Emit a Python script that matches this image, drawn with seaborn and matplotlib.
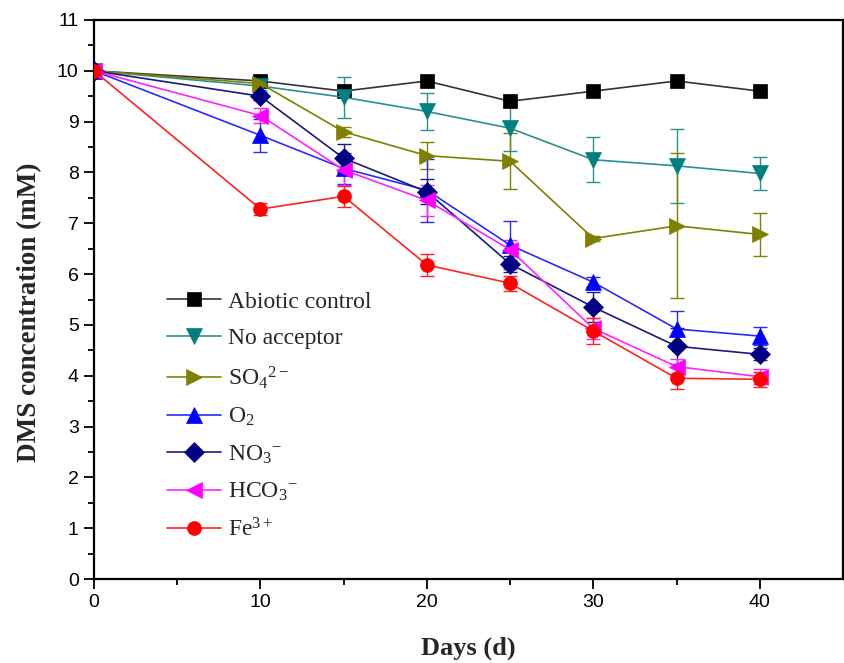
import numpy as np
import pandas as pd
import matplotlib
matplotlib.use("Agg")
import matplotlib.pyplot as plt
import seaborn as sns

days = [0, 10, 15, 20, 25, 30, 35, 40]

abiotic = [10.0, 9.8, 9.6, 9.8, 9.4, 9.6, 9.8, 9.6]
abiotic_err = [0, 0, 0, 0, 0, 0, 0, 0]
no_acceptor = [10.0, 9.7, 9.48, 9.2, 8.87, 8.25, 8.13, 7.98]
no_acceptor_err = [0, 0.08, 0.4, 0.37, 0.45, 0.44, 0.73, 0.33]
so4 = [10.0, 9.75, 8.8, 8.33, 8.22, 6.7, 6.95, 6.78]
so4_err = [0, 0.05, 0.1, 0.27, 0.55, 0.05, 1.43, 0.43]
o2 = [10.0, 8.73, 8.08, 7.65, 6.57, 5.84, 4.92, 4.78]
o2_err = [0, 0.33, 0.3, 0.62, 0.47, 0.1, 0.35, 0.17]
no3 = [10.0, 9.5, 8.28, 7.62, 6.2, 5.35, 4.58, 4.42]
no3_err = [0, 0.08, 0.28, 0.25, 0.15, 0.3, 0.35, 0.12]
hco3 = [10.0, 9.12, 8.05, 7.45, 6.48, 4.93, 4.18, 3.98]
hco3_err = [0, 0.15, 0.3, 0.3, 0.2, 0.2, 0.15, 0.15]
fe = [10.0, 7.28, 7.53, 6.18, 5.82, 4.88, 3.95, 3.93]
fe_err = [0, 0.12, 0.2, 0.22, 0.15, 0.25, 0.22, 0.15]

labels = ["Abiotic control", "No acceptor", r"SO$_4$$^{2-}$", r"O$_2$",
          r"NO$_3$$^{-}$", r"HCO$_3$$^{-}$", r"Fe$^{3+}$"]
series = [abiotic, no_acceptor, so4, o2, no3, hco3, fe]
errors = [abiotic_err, no_acceptor_err, so4_err, o2_err, no3_err, hco3_err, fe_err]
colors = ["#000000", "#008080", "#808000", "#0000ff", "#000080", "#ff00ff", "#ff0000"]
line_colors = ["#333333", "#2a9090", "#808000", "#2a2aff", "#1a1a80", "#ff22ff", "#ff2222"]
markers = ["s", "v", ">", "^", "D", "<", "o"]
msizes = [10, 12, 12, 12, 10, 12, 10]

rows = []
for lab, vals, errs in zip(labels, series, errors):
    for d, v, e in zip(days, vals, errs):
        rows.append({"day": d, "conc": v, "err": e, "group": lab})
df = pd.DataFrame(rows)

sns.set_theme(style="white")
plt.rcParams["mathtext.fontset"] = "custom"
plt.rcParams["mathtext.rm"] = "Liberation Serif"
plt.rcParams["mathtext.it"] = "Liberation Serif:italic"
plt.rcParams["mathtext.bf"] = "Liberation Serif:bold"

fig = plt.figure(figsize=(8.45, 6.63), dpi=100)
fig.patch.set_facecolor("white")
ax = fig.add_axes([94 / 845, 1 - 579 / 663, (843 - 94) / 845, (579 - 20) / 663])

for lab, col, lcol, mk, ms in zip(labels, colors, line_colors, markers, msizes):
    sub = df[df["group"] == lab]
    ax.errorbar(sub["day"], sub["conc"], yerr=sub["err"], fmt="none",
                ecolor=lcol, elinewidth=1.0, capsize=5, capthick=1.0, zorder=2)
    sns.lineplot(data=sub, x="day", y="conc", color=lcol, marker=mk,
                 markersize=ms, markerfacecolor=col, markeredgecolor=col,
                 markeredgewidth=0.5, linewidth=1.2, ax=ax, label=lab,
                 zorder=3, errorbar=None)

ax.set_xlim(0, 45)
ax.set_ylim(0, 11)
ax.set_xticks([0, 10, 20, 30, 40])
ax.set_xticks([5, 15, 25, 35], minor=True)
ax.set_yticks(np.arange(0, 12, 1))
ax.set_yticks(np.arange(0.5, 11, 1), minor=True)

ax.tick_params(axis="both", which="major", direction="out", length=7, width=1.3,
               colors="black", labelsize=14, bottom=True, left=True, pad=4)
ax.tick_params(axis="both", which="minor", direction="out", length=4, width=1.3,
               colors="black", bottom=True, left=True)
for t in ax.get_xticklabels() + ax.get_yticklabels():
    t.set_family("Liberation Sans")

for s in ax.spines.values():
    s.set_visible(True)
    s.set_color("black")
    s.set_linewidth(1.6)

ax.set_xlabel("Days (d)", fontsize=19, fontweight="bold", family="Liberation Serif",
              labelpad=18)
ax.set_ylabel("DMS concentration (mM)", fontsize=19.5, fontweight="bold",
              family="Liberation Serif")
ax.yaxis.set_label_coords(-0.069, 0.478)

leg = ax.legend(loc="upper left", bbox_to_anchor=(0.085, 0.532), frameon=False,
                prop={"family": "Liberation Serif", "size": 17},
                handlelength=2.3, handletextpad=0.3, labelspacing=0.64,
                borderaxespad=0)

fig.savefig("out.png", dpi=100, facecolor="white")
